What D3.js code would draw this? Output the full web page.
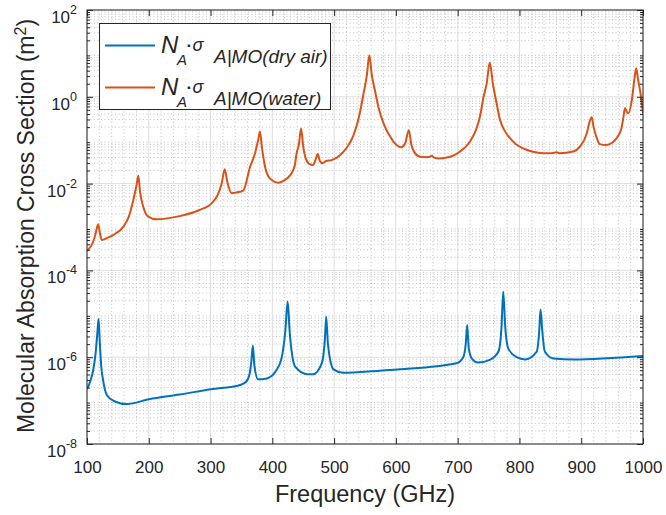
<!DOCTYPE html>
<html>
<head>
<meta charset="utf-8">
<script src="https://cdn.jsdelivr.net/npm/d3@7"></script>
<style>
  html, body { margin: 0; padding: 0; background: #fff; }
  svg { display: block; }
  text { font-family: "Liberation Sans", Arial, Helvetica, sans-serif; fill: #262626; }
</style>
</head>
<body>
<svg id="chart" width="666" height="515"></svg>
<script>
// ---------------- data ----------------
const xTickValues = [100, 200, 300, 400, 500, 600, 700, 800, 900, 1000];
const xTickLabels = ["100", "200", "300", "400", "500", "600", "700", "800", "900", "1000"];
const yTickExponents = [-8, -6, -4, -2, 0, 2];
const yTickLabels = ["-8", "-6", "-4", "-2", "0", "2"];

const seriesNames = ["dry air", "water"];

// water (orange) : frequency GHz / cross section m^2
const freqWater = [100, 110, 114, 118, 121, 124, 133, 143, 159, 168, 175, 180, 183, 186, 191, 199, 213, 250, 280, 302,
  312, 318, 323, 327, 334, 343, 353, 364, 372, 377, 380, 383, 388, 396, 410, 420, 428, 436, 439.5, 443,
  446.5, 450, 454, 460, 466, 470, 473.5, 477, 481, 487, 496, 510, 520, 531, 542, 548, 553, 557, 561, 566,
  572, 580, 590, 596, 609, 615, 621, 625, 630, 639, 650, 655, 658, 662, 669, 688, 704, 720, 730, 736,
  742, 747, 752, 757, 763, 768.5, 776, 785, 795, 806, 820, 839, 852, 860, 865, 887, 898, 909, 913, 917,
  920, 924, 930, 941, 950, 957, 965, 968, 971, 974, 976, 982, 986, 989, 992, 996, 1000];
const waterValues = [2.82e-4, 4.57e-4, 7.08e-4, 1.15e-3, 7.08e-4, 5.01e-4, 5.62e-4, 6.61e-4, 1.02e-3, 1.78e-3, 4.17e-3, 8.91e-3, 1.51e-2, 6.31e-3, 2.95e-3, 1.74e-3, 1.51e-3, 1.78e-3, 2.40e-3, 3.55e-3,
  5.62e-3, 1.0e-2, 2.14e-2, 1.12e-2, 6.03e-3, 6.31e-3, 6.92e-3, 2.45e-2, 5.01e-2, 0.1, 0.158, 0.0708, 0.0251, 0.0132, 0.0105, 0.0120, 0.0151, 0.0251, 0.0513, 0.0794,
  0.186, 0.0708, 0.0380, 0.0282, 0.0269, 0.0355, 0.0479, 0.0331, 0.0295, 0.0331, 0.0347, 0.0457, 0.0661, 0.126, 0.447, 1.26, 3.16, 9.12, 3.16, 1.41,
  0.562, 0.245, 0.126, 0.0933, 0.0692, 0.0851, 0.170, 0.0794, 0.0525, 0.0417, 0.0407, 0.0417, 0.0437, 0.0398, 0.0380, 0.0417, 0.0550, 0.0933, 0.178, 0.347,
  1.0, 2.04, 6.17, 2.0, 0.708, 0.295, 0.166, 0.110, 0.0794, 0.0646, 0.0550, 0.0501, 0.0501, 0.0525, 0.0501, 0.0550, 0.0708, 0.145, 0.251, 0.339,
  0.200, 0.126, 0.0813, 0.0776, 0.0871, 0.110, 0.186, 0.316, 0.550, 0.447, 0.417, 0.851, 2.51, 4.53, 2.51, 1.20, 0.417];

// dry air (blue)
const freqAir = [100, 106, 110, 114, 117, 118.75, 120.5, 123, 126, 132, 145, 164, 200, 250, 300, 348, 358, 363, 366, 368.5,
  371, 377, 391, 407, 416, 421, 424.8, 428, 437, 456, 466, 480, 485, 487.2, 490, 499, 515, 574, 607, 698,
  709, 713, 715.4, 718, 723, 733, 752, 766, 771, 773.8, 777, 782, 795.5, 809, 828, 832, 834.1, 837, 841, 855,
  887, 1000];
const airValues = [1.82e-7, 2.99e-7, 5.01e-7, 1.26e-6, 3.98e-6, 7.59e-6, 2.51e-6, 6.31e-7, 2.99e-7, 1.35e-7, 9.55e-8, 8.32e-8, 1.07e-7, 1.38e-7, 1.82e-7, 2.29e-7, 2.75e-7, 3.98e-7, 7.94e-7, 1.86e-6,
  6.31e-7, 3.09e-7, 3.24e-7, 5.13e-7, 1.12e-6, 3.98e-6, 1.91e-5, 3.98e-6, 6.03e-7, 4.07e-7, 4.07e-7, 7.24e-7, 2.51e-6, 8.51e-6, 2.0e-6, 5.25e-7, 4.37e-7, 4.90e-7, 5.25e-7, 7.24e-7,
  1.0e-6, 1.99e-6, 5.50e-6, 1.58e-6, 9.33e-7, 7.59e-7, 8.71e-7, 1.35e-6, 5.01e-6, 3.24e-5, 5.01e-6, 1.58e-6, 1.0e-6, 8.91e-7, 1.35e-6, 3.98e-6, 1.26e-5, 3.98e-6, 1.35e-6, 9.33e-7,
  8.91e-7, 1.07e-6];

// ---------------- layout ----------------
const svg = d3.select("#chart");
const L = 87, R = 643, T = 10, B = 444;
const x = d3.scaleLinear().domain([100, 1000]).range([L, R]);
const y = d3.scaleLog().domain([1e-8, 1e2]).range([B, T]);
const axisColor = "#262626";
const blue = "#0072BD", orange = "#D95319";

// minor tick values
const yMinor = [];
for (let e = -8; e < 2; e++) for (let m = 2; m <= 9; m++) yMinor.push(m * Math.pow(10, e));
const xMinor = d3.range(100, 1001, 20).filter(v => v % 100 !== 0);

// grid
const grid = svg.append("g");
grid.selectAll("line.ymin").data(yMinor).join("line")
  .attr("x1", L).attr("x2", R).attr("y1", d => y(d)).attr("y2", d => y(d))
  .attr("stroke", "#c4c4c4").attr("stroke-width", 1).attr("stroke-dasharray", "1,2.5");
grid.selectAll("line.xmin").data(xMinor).join("line")
  .attr("y1", T).attr("y2", B).attr("x1", d => x(d)).attr("x2", d => x(d))
  .attr("stroke", "#c4c4c4").attr("stroke-width", 1).attr("stroke-dasharray", "1,2.5");
grid.selectAll("line.ymaj").data(yTickExponents).join("line")
  .attr("x1", L).attr("x2", R).attr("y1", d => y(Math.pow(10, d))).attr("y2", d => y(Math.pow(10, d)))
  .attr("stroke", "#dedede").attr("stroke-width", 1);
grid.selectAll("line.xmaj").data(xTickValues).join("line")
  .attr("y1", T).attr("y2", B).attr("x1", d => x(d)).attr("x2", d => x(d))
  .attr("stroke", "#dedede").attr("stroke-width", 1);

// clip
svg.append("clipPath").attr("id", "clip").append("rect")
  .attr("x", L).attr("y", T).attr("width", R - L).attr("height", B - T);

const line = d3.line().x(d => x(d[0])).y(d => y(d[1])).curve(d3.curveMonotoneX);
const airData = freqAir.map((f, i) => [f, airValues[i]]);
const waterData = freqWater.map((f, i) => [f, waterValues[i]]);

const plot = svg.append("g").attr("clip-path", "url(#clip)");
plot.append("path").datum(airData).attr("d", line)
  .attr("fill", "none").attr("stroke", blue).attr("stroke-width", 2).attr("stroke-linejoin", "round");
plot.append("path").datum(waterData).attr("d", line)
  .attr("fill", "none").attr("stroke", orange).attr("stroke-width", 2).attr("stroke-linejoin", "round");

// axes ticks
function styleAxis(g) {
  g.select(".domain").remove();
  g.selectAll(".tick line").attr("stroke", axisColor);
}
svg.append("g").attr("transform", `translate(0,${B})`)
  .call(d3.axisBottom(x).tickValues(xTickValues).tickSizeInner(-6).tickSizeOuter(0)
    .tickPadding(17).tickFormat((d, i) => xTickLabels[i]))
  .call(styleAxis)
  .call(g => g.selectAll(".tick text").attr("font-size", 17).attr("fill", axisColor)
    .attr("font-family", '"Liberation Sans", Arial, sans-serif'));
svg.append("g").attr("transform", `translate(0,${T})`)
  .call(d3.axisTop(x).tickValues(xTickValues).tickSizeInner(-6).tickSizeOuter(0).tickFormat(""))
  .call(styleAxis);
const yMajorValues = yTickExponents.map(e => Math.pow(10, e));
svg.append("g").attr("transform", `translate(${L},0)`)
  .call(d3.axisLeft(y).tickValues(yMajorValues).tickSizeInner(-6).tickSizeOuter(0).tickFormat(""))
  .call(styleAxis);
svg.append("g").attr("transform", `translate(${R},0)`)
  .call(d3.axisRight(y).tickValues(yMajorValues).tickSizeInner(-6).tickSizeOuter(0).tickFormat(""))
  .call(styleAxis);
svg.append("g").attr("transform", `translate(${L},0)`)
  .call(d3.axisLeft(y).tickValues(yMinor).tickSizeInner(-3).tickSizeOuter(0).tickFormat(""))
  .call(styleAxis);
svg.append("g").attr("transform", `translate(${R},0)`)
  .call(d3.axisRight(y).tickValues(yMinor).tickSizeInner(-3).tickSizeOuter(0).tickFormat(""))
  .call(styleAxis);

// box
svg.append("rect").attr("x", L).attr("y", T).attr("width", R - L).attr("height", B - T)
  .attr("fill", "none").attr("stroke", axisColor).attr("stroke-width", 1);

// y tick labels 10^n
const yl = svg.append("g");
yTickExponents.forEach((e, i) => {
  const yy = y(Math.pow(10, e));
  const t = yl.append("text").attr("x", 77).attr("y", yy + 13).attr("text-anchor", "end")
    .attr("font-size", 17).attr("fill", axisColor);
  t.append("tspan").text("10");
  t.append("tspan").attr("dy", -9).attr("font-size", 12.5).text(yTickLabels[i]);
});

// axis labels
svg.append("text").attr("x", (L + R) / 2).attr("y", 502).attr("text-anchor", "middle")
  .attr("font-size", 23.5).text("Frequency (GHz)");
const ylab = svg.append("text").attr("transform", `translate(34,${(T + B) / 2 - 1}) rotate(-90)`)
  .attr("text-anchor", "middle").attr("font-size", 23);
ylab.append("tspan").text("Molecular Absorption Cross Section (m");
ylab.append("tspan").attr("dy", -8.5).attr("font-size", 16).text("2");
ylab.append("tspan").attr("dy", 8.5).text(")");

// legend
const lg = svg.append("g");
lg.append("rect").attr("x", 99.5).attr("y", 23.5).attr("width", 231).attr("height", 86)
  .attr("fill", "#fff").attr("stroke", axisColor).attr("stroke-width", 1);
const legendColors = [blue, orange];
seriesNames.forEach((name, i) => {
  const oy = 45.5 + i * 42;
  lg.append("line").attr("x1", 105).attr("x2", 155).attr("y1", oy).attr("y2", oy)
    .attr("stroke", legendColors[i]).attr("stroke-width", 2);
  lg.append("text").attr("x", 161).attr("y", oy + 7.5).attr("font-size", 24).attr("font-style", "italic").text("N");
  lg.append("text").attr("x", 177).attr("y", oy + 19).attr("font-size", 15).attr("font-style", "italic").text("A");
  lg.append("text").attr("x", 186.5).attr("y", oy + 5).attr("font-size", 17).attr("font-weight", "bold").text("\u00B7");
  lg.append("text").attr("x", 192.5).attr("y", oy + 5).attr("font-size", 18).attr("font-style", "italic").text("\u03C3");
  lg.append("text").attr("x", 214).attr("y", oy + 17.5).attr("font-size", 19).attr("font-style", "italic")
    .text("A|MO(" + name + ")");
});
</script>
</body>
</html>
